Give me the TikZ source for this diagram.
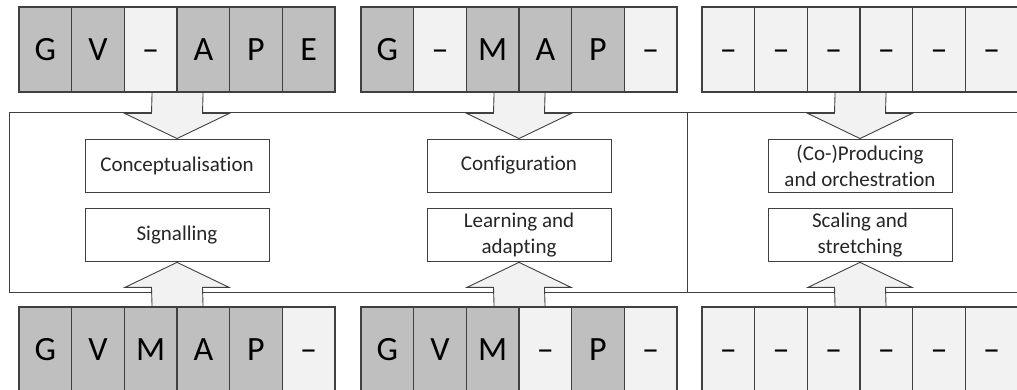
\documentclass[tikz,border=0pt]{standalone}
\usepackage{fontspec}
\setmainfont{Carlito}[Ligatures=NoCommon]
\usetikzlibrary{positioning,calc}
\definecolor{celldark}{HTML}{BFBFBF}
\definecolor{celllight}{HTML}{F2F2F2}
\definecolor{linegray}{HTML}{404040}
\tikzset{
    cell/.style = {draw=linegray, line width=1.1pt, rectangle, minimum width=52.67pt, minimum height=85pt, inner sep=0pt, text height=22pt, text depth=0pt, font=\fontsize{34}{34}\selectfont},
    dark/.style = {cell, fill=celldark},
    light/.style = {cell, fill=celllight},
    stage-box/.style = {draw=linegray, fill=white, line width=0.9pt, rectangle, minimum width=184pt, minimum height=53pt, inner sep=0pt, align=center, text=black!85, font=\fontsize{21}{26}\selectfont},
    fat-arrow/.style = {draw=linegray, fill=celllight, line width=0.9pt, line join=miter},
    frame/.style = {draw=linegray, line width=0.9pt},
}
\newcommand{\arrowdown}[2]{\draw[fat-arrow] ($(#1)+(-25.5,0)$) -- ($(#2)+(-25.5,-25)$) -- ++(-26.5,0) -- (#2) -- ++(52,-25) -- ++(-26.5,0) -- ($(#1)+(25.5,0)$) -- cycle;}
\newcommand{\arrowup}[2]{\draw[fat-arrow] ($(#1)+(-25.5,0)$) -- ($(#2)+(-25.5,25)$) -- ++(-26.5,0) -- (#2) -- ++(52,25) -- ++(-26.5,0) -- ($(#1)+(25.5,0)$) -- cycle;}

\begin{document}
\begin{tikzpicture}[x=1pt, y=-1pt]
\clip (0,0) rectangle (1017,390);
\fill[white] (0,0) rectangle (1017,390);

% frame round the stages
\draw[frame] (9,112) rectangle (1030,292);
\draw[frame] (687,112) -- (687,292);

% stages
\node[stage-box] (concept) at (177,165.5) {Conceptualisation};
\node[stage-box, below=16pt of concept] (signal) {Signalling};
\node[stage-box] (config) at (519,165.5) {Configuration};
\node[stage-box, below=16pt of config] (learn) {Learning and\\adapting};
\node[stage-box] (produce) at (860,165.5) {(Co-)Producing\\and orchestration};
\node[stage-box, below=16pt of produce] (scale) {Scaling and\\stretching};

% top rows
\foreach \l/\s [count=\i] in {G/dark,V/dark,–/light,A/dark,P/dark,E/dark}
    \node[\s] (ta\i) at ({19+52.67*(\i-0.5)},49.5) {\l};
\foreach \l/\s [count=\i] in {G/dark,–/light,M/dark,A/dark,P/dark,–/light}
    \node[\s] (tb\i) at ({361+52.67*(\i-0.5)},49.5) {\l};
\foreach \l/\s [count=\i] in {–/light,–/light,–/light,–/light,–/light,–/light}
    \node[\s] (tc\i) at ({702+52.67*(\i-0.5)},49.5) {\l};

% bottom rows
\foreach \l/\s [count=\i] in {G/dark,V/dark,M/dark,A/dark,P/dark,–/light}
    \node[\s] (ba\i) at ({19+52.67*(\i-0.5)},349.5) {\l};
\foreach \l/\s [count=\i] in {G/dark,V/dark,M/dark,–/light,P/dark,–/light}
    \node[\s] (bb\i) at ({361+52.67*(\i-0.5)},349.5) {\l};
\foreach \l/\s [count=\i] in {–/light,–/light,–/light,–/light,–/light,–/light}
    \node[\s] (bc\i) at ({702+52.67*(\i-0.5)},349.5) {\l};

% block arrows
\arrowdown{ta3.south east}{concept.north}
\arrowdown{tb3.south east}{config.north}
\arrowdown{tc3.south east}{produce.north}
\arrowup{ba3.north east}{signal.south}
\arrowup{bb3.north east}{learn.south}
\arrowup{bc3.north east}{scale.south}
\end{tikzpicture}
\end{document}
